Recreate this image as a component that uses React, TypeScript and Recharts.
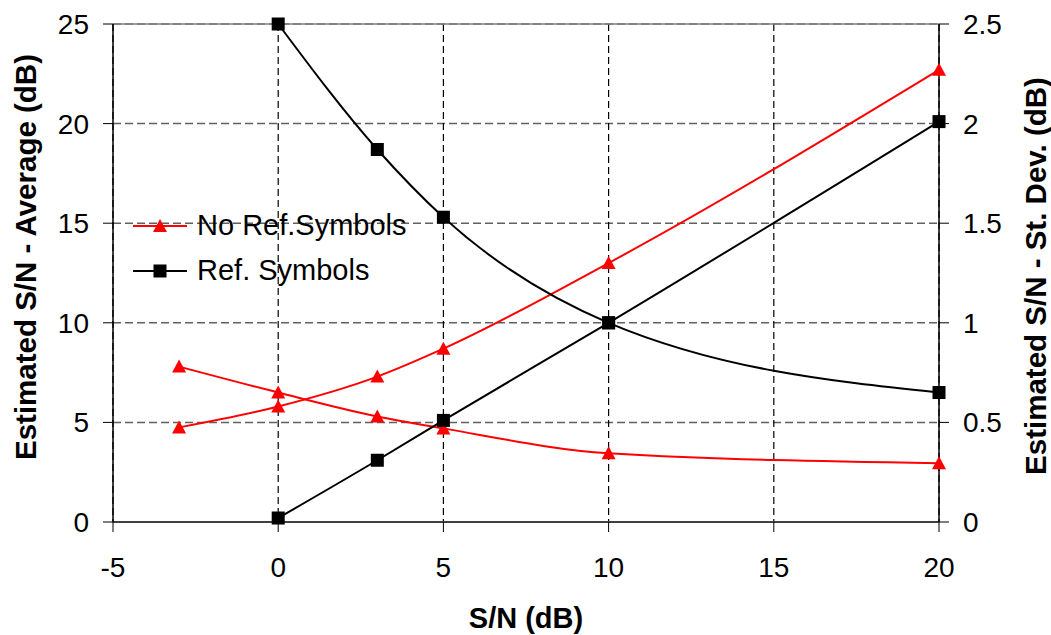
import {
  LineChart,
  CartesianGrid,
  XAxis,
  YAxis,
  Line,
  Legend,
  ReferenceLine,
} from 'recharts'

// x values (S/N in dB)
const snrDb = [-3, 0, 3, 5, 10, 20]
// "No Ref.Symbols" series
const noRefAvg = [4.75, 5.8, 7.3, 8.7, 13.0, 22.7]
const noRefStd = [0.78, 0.65, 0.53, 0.47, 0.345, 0.295]
// "Ref. Symbols" series (no point at -3)
const refAvg = [null, 0.2, 3.1, 5.1, 10.0, 20.1]
const refStd = [null, 2.5, 1.87, 1.53, 1.0, 0.65]

const xTicks = [-5, 0, 5, 10, 15, 20]
const avgTicks = [0, 5, 10, 15, 20, 25]
const stdTicks = [0, 0.5, 1, 1.5, 2, 2.5]

const legendItems = [
  { label: 'No Ref.Symbols', color: '#FF0000', shape: 'triangle' },
  { label: 'Ref. Symbols', color: '#000000', shape: 'square' },
]

const FONT = '"Liberation Sans", Arial, sans-serif'

const data = snrDb.map((snr, i) => ({
  snr,
  noRefAvg: noRefAvg[i],
  noRefStd: noRefStd[i],
  refAvg: refAvg[i],
  refStd: refStd[i],
}))

function Marker({ shape, cx, cy, color }: { shape: string; cx: number; cy: number; color: string }) {
  if (shape === 'triangle') {
    return (
      <polygon
        points={`${cx},${cy - 7} ${cx - 7},${cy + 6} ${cx + 7},${cy + 6}`}
        fill={color}
      />
    )
  }
  return <rect x={cx - 6.5} y={cy - 6.5} width={13} height={13} fill={color} />
}

function makeDot(shape: string, color: string) {
  return (p: any) => {
    const k = `${shape}-${p.dataKey}-${p.index}`
    if (p.cx == null || p.cy == null || p.value == null) return <g key={k} />
    return (
      <g key={k}>
        <Marker shape={shape} cx={p.cx} cy={p.cy} color={color} />
      </g>
    )
  }
}

function LegendBox() {
  return (
    <div style={{ fontFamily: FONT, fontSize: 29, color: '#000' }}>
      {legendItems.map((item) => (
        <div key={item.label} style={{ display: 'flex', alignItems: 'center', height: 45 }}>
          <svg width={56} height={20}>
            <line x1={0} y1={10} x2={54} y2={10} stroke={item.color} strokeWidth={2} />
            <Marker shape={item.shape} cx={27} cy={10} color={item.color} />
          </svg>
          <span style={{ marginLeft: 8, whiteSpace: 'nowrap' }}>{item.label}</span>
        </div>
      ))}
    </div>
  )
}

function verticalTitle(text: string, dx: number, dy: number) {
  return (props: any) => {
    const vb = props.viewBox || {}
    const x = (vb.x ?? 0) + dx
    const y = (vb.y ?? 24) + (vb.height ?? 498) / 2 + dy
    return (
      <text
        x={x}
        y={y}
        transform={`rotate(-90, ${x}, ${y})`}
        textAnchor="middle"
        dominantBaseline="central"
        fontFamily={FONT}
        fontSize={29.5}
        fontWeight="bold"
        fill="#000"
      >
        {text}
      </text>
    )
  }
}

function bottomTitle(props: any) {
  const vb = props.viewBox || {}
  const x = (vb.x ?? 113) + (vb.width ?? 826) / 2
  return (
    <text x={x} y={628} textAnchor="middle" fontFamily={FONT} fontSize={29} fontWeight="bold" fill="#000">
      S/N (dB)
    </text>
  )
}

const tickStyle = { fill: '#000', fontSize: 28, fontFamily: FONT }

export default function App() {
  return (
    <div style={{ position: 'absolute', left: 0, top: 0, background: '#fff' }}>
      <LineChart width={1051} height={635} data={data} margin={{ top: 24, right: 0, bottom: 0, left: 0 }}>
        <CartesianGrid
          yAxisId="avg"
          vertical={false}
          stroke="#606060"
          strokeDasharray="8 4"
          strokeWidth={1.5}
        />
        <CartesianGrid
          yAxisId="avg"
          horizontal={false}
          stroke="#000"
          strokeDasharray="7 4"
          strokeWidth={1.2}
        />
        <ReferenceLine yAxisId="avg" y={25} stroke="#808080" strokeWidth={1.5} />
        <XAxis
          dataKey="snr"
          type="number"
          domain={[-5, 20]}
          ticks={xTicks}
          height={113}
          tickSize={10}
          tickMargin={25}
          tick={tickStyle}
          axisLine={{ stroke: '#404040', strokeWidth: 2 }}
          tickLine={{ stroke: '#000' }}
          label={bottomTitle}
        />
        <YAxis
          yAxisId="avg"
          orientation="left"
          domain={[0, 25]}
          ticks={avgTicks}
          width={113}
          tickSize={10}
          tickMargin={14}
          tick={tickStyle}
          axisLine={{ stroke: '#000', strokeWidth: 1.5 }}
          tickLine={{ stroke: '#000' }}
          label={verticalTitle('Estimated S/N - Average (dB)', 25, -16)}
        />
        <YAxis
          yAxisId="std"
          orientation="right"
          domain={[0, 2.5]}
          ticks={stdTicks}
          width={112}
          tickSize={10}
          tickMargin={14}
          tick={tickStyle}
          axisLine={{ stroke: '#000', strokeWidth: 1.5 }}
          tickLine={{ stroke: '#000' }}
          label={verticalTitle('Estimated S/N - St. Dev. (dB)', 96, 3)}
        />
        <Legend
          layout="vertical"
          align="center"
          verticalAlign="middle"
          content={() => <LegendBox />}
          wrapperStyle={{ position: 'absolute', left: 133, top: 203, width: 'auto', height: 'auto' }}
        />
        <Line
          yAxisId="avg"
          dataKey="noRefAvg"
          type="monotone"
          stroke="#FF0000"
          strokeWidth={2}
          dot={makeDot('triangle', '#FF0000')}
          activeDot={false}
          isAnimationActive={false}
          legendType="none"
        />
        <Line
          yAxisId="std"
          dataKey="noRefStd"
          type="monotone"
          stroke="#FF0000"
          strokeWidth={2}
          dot={makeDot('triangle', '#FF0000')}
          activeDot={false}
          isAnimationActive={false}
          legendType="none"
        />
        <Line
          yAxisId="avg"
          dataKey="refAvg"
          type="monotone"
          stroke="#000"
          strokeWidth={2}
          dot={makeDot('square', '#000')}
          activeDot={false}
          isAnimationActive={false}
          legendType="none"
        />
        <Line
          yAxisId="std"
          dataKey="refStd"
          type="monotone"
          stroke="#000"
          strokeWidth={2}
          dot={makeDot('square', '#000')}
          activeDot={false}
          isAnimationActive={false}
          legendType="none"
        />
      </LineChart>
    </div>
  )
}
